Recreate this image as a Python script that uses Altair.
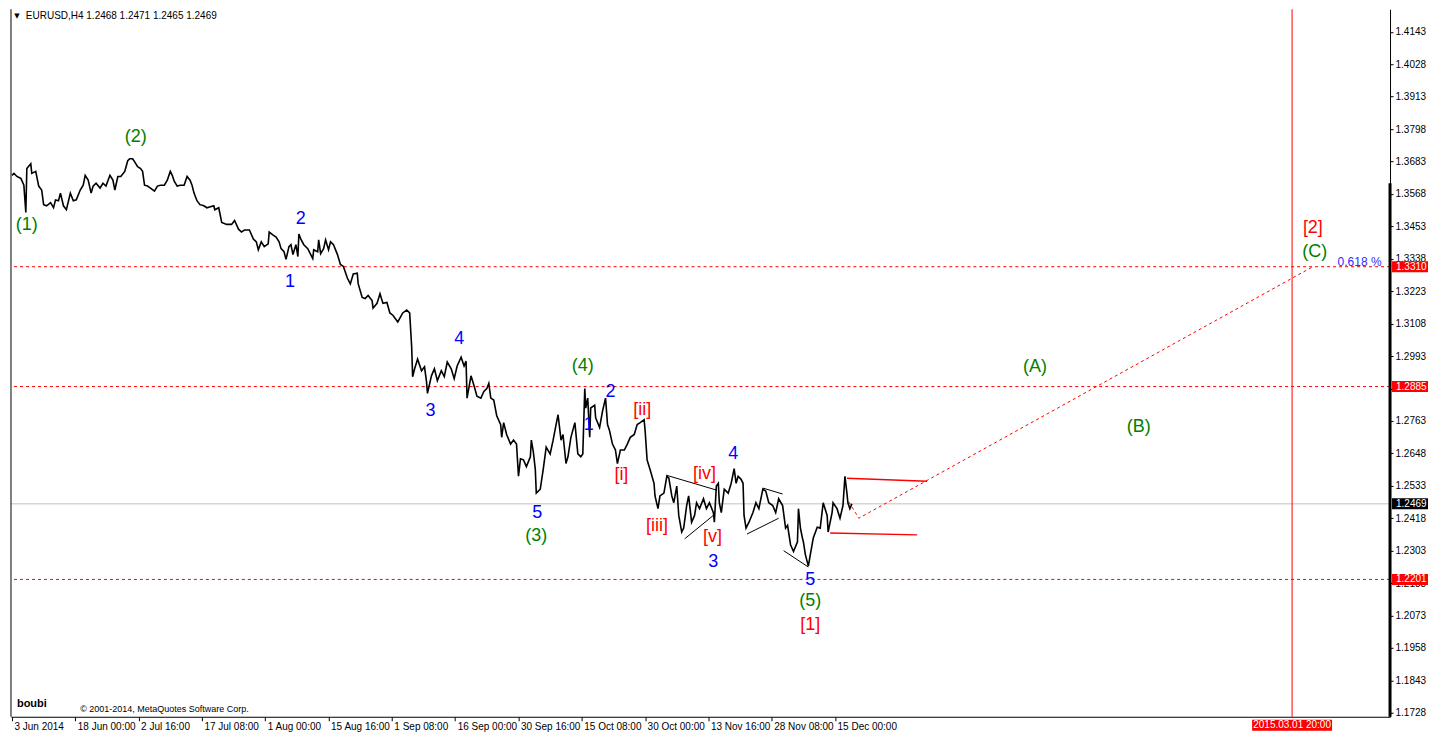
import altair as alt
import pandas as pd

# ---------------- price path (H4 bar index, price) ----------------
bars = [1,3,6,10,13,15,16,20,21,25,28,31,33,36,40,43,45,48,50,53,56,60,63,66,70,73,75,78,81,83,86,90,93,96,
        100,103,105,108,111,115,118,120,123,125,128,131,133,135,138,141,145,148,151,155,158,161,163,165,168,171,
        175,178,181,183,185,188,191,195,198,205,206,210,213,218,223,226,230,233,236,241,245,248,250,253,256,260,
        261,265,268,271,273,276,278,281,283,285,288,290,291,293,296,300,303,305,306,310,311,313,316,318,321,323,
        326,330,333,336,340,343,346,350,351,355,358,361,365,366,370,373,376,380,383,386,391,396,400,403,405,406,
        408,411,415,418,420,421,425,428,431,435,438,441,445,448,451,455,458,460,461,465,468,471,475,478,481,483,
        485,488,491,495,496,498,501,505,508,511,513,515,518,521,525,526,528,530,531,535,538,541,545,548,551,553,
        556,558,561,563,566,570,573,576,578,580,581,583,585,586,590,591,595,598,601,603,605,608,611,613,616,620,
        623,626,630,633,636,640,641,643,646,650,651,654,656,660,663,665,668,670,673,675,678,680,683,685,688,691,
        693,696,700,703,706,710,711,713,715,716,718,721,725,728,731,733,735,738,740,741,743,746,750,753,756,760,
        763,766,770,773,776,780,783,785,788,791,795,796,798,800,801,803,806,808,811,815,818,821,825,826,830,831,
        835,838,841,843,845,846,848,850]
prices = [1.3634,1.3641,1.3630,1.3623,1.3599,1.3502,1.3658,1.3675,1.3641,1.3648,1.3596,1.3582,1.3530,1.3526,
          1.3537,1.3519,1.3547,1.3544,1.3571,1.3526,1.3512,1.3571,1.3544,1.3547,1.3582,1.3599,1.3634,1.3617,
          1.3571,1.3596,1.3606,1.3589,1.3606,1.3596,1.3634,1.3617,1.3582,1.3630,1.3630,1.3648,1.3686,1.3693,
          1.3693,1.3682,1.3665,1.3658,1.3648,1.3599,1.3596,1.3589,1.3578,1.3596,1.3599,1.3599,1.3617,1.3648,
          1.3634,1.3613,1.3596,1.3599,1.3599,1.3630,1.3617,1.3599,1.3571,1.3544,1.3530,1.3526,1.3519,1.3526,
          1.3512,1.3519,1.3467,1.3460,1.3460,1.3474,1.3443,1.3433,1.3440,1.3440,1.3408,1.3398,1.3370,1.3398,
          1.3381,1.3391,1.3433,1.3422,1.3415,1.3398,1.3374,1.3363,1.3336,1.3381,1.3388,1.3353,1.3388,1.3346,
          1.3426,1.3408,1.3388,1.3374,1.3353,1.3339,1.3370,1.3363,1.3405,1.3356,1.3374,1.3405,1.3370,1.3398,
          1.3388,1.3353,1.3318,1.3311,1.3270,1.3249,1.3284,1.3287,1.3249,1.3201,1.3197,1.3208,1.3190,1.3163,
          1.3180,1.3214,1.3180,1.3183,1.3146,1.3138,1.3114,1.3146,1.3156,1.3146,1.3027,1.2920,1.2948,1.2982,
          1.2941,1.2955,1.2903,1.2861,1.2923,1.2948,1.2906,1.2941,1.2920,1.2972,1.2948,1.2913,1.2958,1.2989,
          1.2958,1.2975,1.2844,1.2923,1.2889,1.2851,1.2844,1.2868,1.2878,1.2896,1.2844,1.2837,1.2781,1.2750,
          1.2705,1.2757,1.2715,1.2681,1.2695,1.2681,1.2567,1.2629,1.2625,1.2601,1.2636,1.2695,1.2653,1.2591,
          1.2507,1.2521,1.2591,1.2670,1.2646,1.2695,1.2750,1.2785,1.2695,1.2715,1.2612,1.2636,1.2705,1.2757,
          1.2646,1.2636,1.2646,1.2878,1.2809,1.2844,1.2705,1.2809,1.2819,1.2774,1.2740,1.2799,1.2844,1.2750,
          1.2729,1.2681,1.2660,1.2612,1.2660,1.2660,1.2681,1.2705,1.2715,1.2750,1.2757,1.2767,1.2729,1.2625,
          1.2591,1.2542,1.2497,1.2452,1.2497,1.2507,1.2567,1.2560,1.2497,1.2473,1.2532,1.2428,1.2369,1.2383,
          1.2463,1.2497,1.2404,1.2428,1.2473,1.2452,1.2487,1.2452,1.2473,1.2438,1.2404,1.2532,1.2542,1.2473,
          1.2438,1.2521,1.2507,1.2542,1.2594,1.2542,1.2567,1.2556,1.2542,1.2428,1.2383,1.2404,1.2438,1.2473,
          1.2452,1.2521,1.2514,1.2473,1.2463,1.2438,1.2487,1.2463,1.2383,1.2393,1.2324,1.2300,1.2334,1.2452,
          1.2383,1.2348,1.2334,1.2289,1.2248,1.2289,1.2348,1.2386,1.2383,1.2473,1.2428,1.2369,1.2438,1.2473,
          1.2452,1.2418,1.2463,1.2567,1.2507,1.2473,1.2452,1.2469]

# ---------------- axes ----------------
x_tick_bars = [1, 65, 129, 193, 257, 321, 385, 449, 513, 577, 641, 705, 769, 833]
x_tick_labels = ['3 Jun 2014', '18 Jun 00:00', '2 Jul 16:00', '17 Jul 08:00', '1 Aug 00:00',
                 '15 Aug 16:00', '1 Sep 08:00', '16 Sep 00:00', '30 Sep 16:00', '15 Oct 08:00',
                 '30 Oct 00:00', '13 Nov 16:00', '28 Nov 08:00', '15 Dec 00:00']
y_ticks = [1.1728, 1.1843, 1.1958, 1.2073, 1.2188, 1.2303, 1.2418, 1.2533, 1.2648, 1.2763, 1.2878,
           1.2993, 1.3108, 1.3223, 1.3338, 1.3453, 1.3568, 1.3683, 1.3798, 1.3913, 1.4028, 1.4143]
X_RANGE = [0, 1394]
Y_RANGE = [1.1714, 1.4223]

# ---------------- levels ----------------
level_prices = [1.3310, 1.2885, 1.2201]
current_price = 1.2469
future_bar = 1295
future_label = '2015.03.01 20:00'
box_prices = [1.3310, 1.2885, 1.2201, 1.2469]
box_labels = ['1.3310', '1.2885', '1.2201', '1.2469']
box_colors = ['#ff0000', '#ff0000', '#ff0000', '#000000']

# ---------------- wave labels ----------------
green_labels = ['(1)', '(2)', '(3)', '(4)', '(5)', '(A)', '(B)', '(C)']
green_bars = [16, 126, 531, 578, 808, 1035, 1140, 1318]
green_prices = [1.3457, 1.3769, 1.2355, 1.2958, 1.2126, 1.2955, 1.2740, 1.3363]

blue_labels = ['1', '2', '3', '4', '5', '1', '2', '3', '4', '5']
blue_bars = [282, 293, 424, 453, 532, 584, 606, 710, 730, 808]
blue_prices = [1.3256, 1.3478, 1.2799, 1.3055, 1.2435, 1.2750, 1.2865, 1.2262, 1.2646, 1.2199]

red_labels = ['[i]', '[ii]', '[iii]', '[iv]', '[v]', '[1]', '[2]']
red_bars = [617, 638, 653, 701, 709, 808, 1316]
red_prices = [1.2570, 1.2802, 1.2390, 1.2574, 1.2352, 1.2040, 1.3446]

# ---------------- trend lines ----------------
black_x1 = [663, 681, 760, 744, 781]
black_y1 = [1.2570, 1.2345, 1.2525, 1.2362, 1.2303]
black_x2 = [713, 710, 780, 776, 806]
black_y2 = [1.2518, 1.2428, 1.2504, 1.2418, 1.2245]

red_x1 = [845, 828]
red_y1 = [1.2560, 1.2366]
red_x2 = [926, 916]
red_y2 = [1.2549, 1.2359]

proj_bars = [847, 857, 1316]
proj_prices = [1.2476, 1.2418, 1.3310]

FONT = "Liberation Sans"

xs = alt.Scale(domain=X_RANGE, nice=False, zero=False)
ys = alt.Scale(domain=Y_RANGE, nice=False, zero=False)

label_expr = "[" + ",".join("'%s'" % s for s in x_tick_labels) + "][round((datum.value-1)/64)]"

x_axis = alt.Axis(values=x_tick_bars, labelExpr=label_expr, title=None, grid=False,
                  tickSize=4, tickColor="black", domainColor="black", labelAlign="left",
                  labelOffset=2, labelPadding=1, labelFontSize=10, labelFont=FONT,
                  labelColor="black", labelOverlap=False, labelFlush=False, labelBound=False)
y_axis = alt.Axis(values=y_ticks, format=".4f", orient="right", title=None, grid=False,
                  tickSize=3, tickColor="black", domainColor="black", labelPadding=2,
                  labelFontSize=10, labelFont=FONT, labelColor="black", labelOverlap=False,
                  labelBound=False, labelFlush=False)

X = lambda f="bar": alt.X(f + ":Q", scale=xs, axis=x_axis)
Y = lambda f="price": alt.Y(f + ":Q", scale=ys, axis=y_axis)

price_df = pd.DataFrame({"bar": bars, "price": prices})
price_line = alt.Chart(price_df).mark_line(color="black", strokeWidth=1.6).encode(x=X(), y=Y())

lvl_df = pd.DataFrame({"price": level_prices})
levels = alt.Chart(lvl_df).mark_rule(color="#ff0000", strokeDash=[3, 3], strokeWidth=1).encode(y=Y())

cur_df = pd.DataFrame({"price": [current_price]})
cur_line = alt.Chart(cur_df).mark_rule(color="#c0c0c0", strokeWidth=1).encode(y=Y())

vdf = pd.DataFrame({"bar": [future_bar]})
vline = alt.Chart(vdf).mark_rule(color="#ff0000", strokeWidth=1).encode(x=X())

left_df = pd.DataFrame({"bar": [X_RANGE[0]]})
left_border = alt.Chart(left_df).mark_rule(color="black", strokeWidth=1).encode(x=X())

thick_df = pd.DataFrame({"bar": [X_RANGE[1]], "price": [1.3606], "price2": [Y_RANGE[0]]})
thick = alt.Chart(thick_df).mark_rule(color="black", strokeWidth=3).encode(
    x=X(), y=Y(), y2="price2:Q")

bl_df = pd.DataFrame({"bar": black_x1, "price": black_y1, "bar2": black_x2, "price2": black_y2})
black_lines = alt.Chart(bl_df).mark_rule(color="black", strokeWidth=1).encode(
    x=X(), y=Y(), x2="bar2:Q", y2="price2:Q")

rl_df = pd.DataFrame({"bar": red_x1, "price": red_y1, "bar2": red_x2, "price2": red_y2})
red_lines = alt.Chart(rl_df).mark_rule(color="#ff0000", strokeWidth=1.5).encode(
    x=X(), y=Y(), x2="bar2:Q", y2="price2:Q")

proj_df = pd.DataFrame({"bar": proj_bars, "price": proj_prices, "o": list(range(len(proj_bars)))})
proj = alt.Chart(proj_df).mark_line(color="#ff0000", strokeDash=[3, 3], strokeWidth=1).encode(
    x=X(), y=Y(), order="o:Q")


def labels(lbls, bs, ps, color, size=18):
    df = pd.DataFrame({"bar": bs, "price": ps, "t": lbls})
    return alt.Chart(df).mark_text(color=color, fontSize=size, font=FONT, align="center",
                                   baseline="middle").encode(x=X(), y=Y(), text="t:N")


green = labels(green_labels, green_bars, green_prices, "#008000")
blue = labels(blue_labels, blue_bars, blue_prices, "#0000ff")
red = labels(red_labels, red_bars, red_prices, "#ff0000")

fib = alt.Chart(pd.DataFrame({"bar": [1341], "price": [1.3325], "t": ["0.618 %"]})).mark_text(
    color="#2b2bff", fontSize=12, font=FONT, align="left", baseline="middle").encode(
    x=X(), y=Y(), text="t:N")

title_tri = alt.Chart(pd.DataFrame({"bar": [6], "price": [1.4199], "t": ["▼"]})).mark_text(
    color="black", fontSize=7, font="DejaVu Sans", align="center", baseline="middle").encode(
    x=X(), y=Y(), text="t:N")
title_txt = alt.Chart(pd.DataFrame({"bar": [15], "price": [1.4199],
                                    "t": ["EURUSD,H4  1.2468 1.2471 1.2465 1.2469"]})).mark_text(
    color="black", fontSize=10, font=FONT, align="left", baseline="middle").encode(
    x=X(), y=Y(), text="t:N")

boubi = alt.Chart(pd.DataFrame({"bar": [6], "price": [1.1759], "t": ["boubi"]})).mark_text(
    color="black", fontSize=11, font=FONT, fontWeight="bold", align="left", baseline="middle").encode(
    x=X(), y=Y(), text="t:N")
copyr = alt.Chart(pd.DataFrame({"bar": [70], "price": [1.1742],
                                "t": ["© 2001-2014, MetaQuotes Software Corp."]})).mark_text(
    color="black", fontSize=9, font=FONT, align="left", baseline="middle").encode(
    x=X(), y=Y(), text="t:N")

box_df = pd.DataFrame({"bar": [X_RANGE[1]] * len(box_prices), "price": box_prices,
                       "t": box_labels, "c": box_colors})
boxes = alt.Chart(box_df).mark_rect(xOffset=2, x2Offset=38, yOffset=-5.5, y2Offset=5.5).encode(
    x=X(), x2="bar:Q", y=Y(), y2="price:Q", color=alt.Color("c:N", scale=None))
box_txt = alt.Chart(box_df).mark_text(color="white", fontSize=10, font=FONT, align="left",
                                      baseline="middle", dx=6).encode(x=X(), y=Y(), text="t:N")

date_df = pd.DataFrame({"bar": [future_bar], "price": [Y_RANGE[0]], "t": [future_label]})
date_box = alt.Chart(date_df).mark_rect(color="#ff0000", xOffset=-40, x2Offset=40,
                                        yOffset=3, y2Offset=14).encode(
    x=X(), x2="bar:Q", y=Y(), y2="price:Q")
date_txt = alt.Chart(date_df).mark_text(color="white", fontSize=10, font=FONT, align="center",
                                        baseline="middle", dy=8.5).encode(x=X(), y=Y(), text="t:N")

chart = alt.layer(
    cur_line, levels, vline, left_border, thick, black_lines, red_lines, proj, price_line,
    green, blue, red, fib, title_tri, title_txt, boubi, copyr, boxes, box_txt, date_box, date_txt
).properties(width=1380, height=708, background="white", padding=0).configure_view(stroke=None)

chart.save("out.html", embed_options={"renderer": "svg", "actions": False})
